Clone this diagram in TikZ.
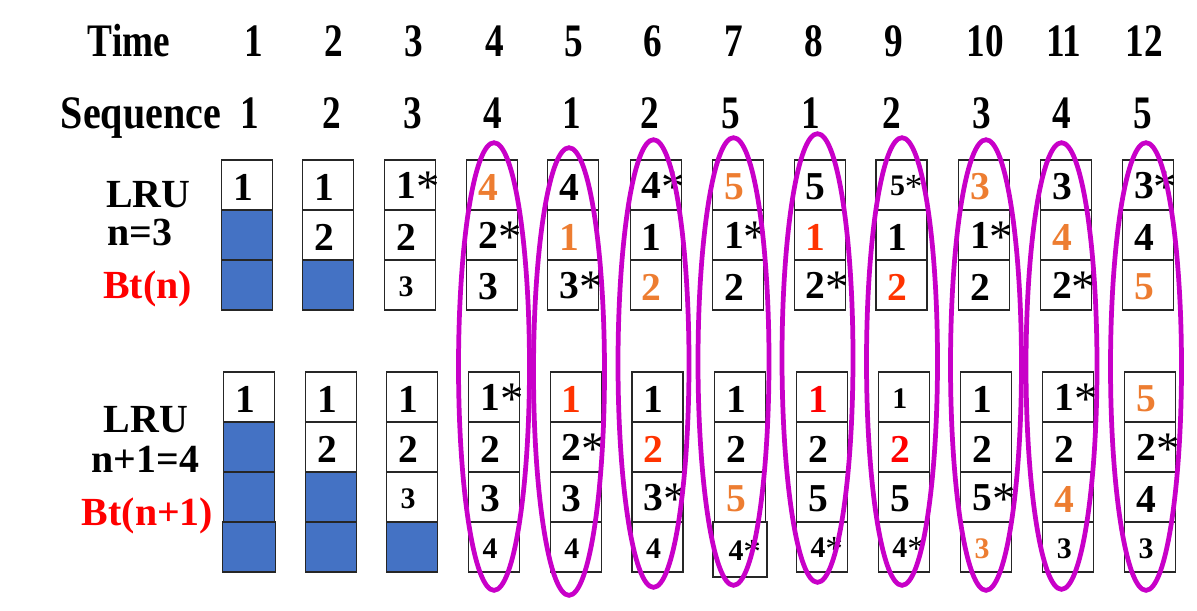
\documentclass[tikz,border=0pt]{standalone}
\usepackage{fontspec}
\setmainfont{Liberation Serif}
\definecolor{boxblue}{HTML}{4472C4}
\definecolor{orng}{HTML}{ED7D31}
\definecolor{redA}{HTML}{FF3300}
\definecolor{redB}{HTML}{FF0000}
\definecolor{mag}{HTML}{C800C8}
\newcommand\st{\rlap{\raisebox{-0.09em}{\scalebox{1.18}{\fontseries{m}\selectfont*}}}}
\newcommand\hh[1]{\scalebox{0.8}[1]{#1}}
\tikzset{
 cellbox/.style={draw=black!85, line width=0.7pt, minimum width=1.02cm, minimum height=1cm, inner sep=0pt, outer sep=0pt},
 num/.style={font=\bfseries\fontsize{22.5}{24}\selectfont, inner sep=0pt},
 sm/.style={font=\bfseries\fontsize{17}{18}\selectfont},
 hdr/.style={font=\bfseries\fontsize{26.5}{28}\selectfont, inner sep=0pt, anchor=base},
 lbl/.style={font=\bfseries\fontsize{22.7}{24}\selectfont, inner sep=0pt, anchor=base},
 ell/.style={draw=mag, line width=2.7pt},
}
\newcommand\cc[5]{%
  \node[cellbox] (#1) at (#2,#3) {};
  \node[num,#5] at ([xshift=-0.08cm,yshift=-0.04cm]#1.center) {#4};}
\newcommand\cb[3]{\node[cellbox,fill=boxblue] (#1) at (#2,#3) {};}
\begin{document}
\begin{tikzpicture}[x=0.02cm,y=-0.02cm]
\useasboundingbox (0,0) rectangle (1197,610);
% header
\node[hdr] (time) at (129,56) {\hh{Time}};
\node[hdr] (tm1) at (254,56) {\hh{1}};
\node[hdr] (tm2) at (333.5,56) {\hh{2}};
\node[hdr] (tm3) at (414,56) {\hh{3}};
\node[hdr] (tm4) at (495,56) {\hh{4}};
\node[hdr] (tm5) at (574,56) {\hh{5}};
\node[hdr] (tm6) at (652.7,56) {\hh{6}};
\node[hdr] (tm7) at (734,56) {\hh{7}};
\node[hdr] (tm8) at (813.5,56) {\hh{8}};
\node[hdr] (tm9) at (893.6,56) {\hh{9}};
\node[hdr] (tm10) at (985.5,56) {\hh{10}};
\node[hdr] (tm11) at (1064,56) {\hh{11}};
\node[hdr] (tm12) at (1144,56) {\hh{12}};
\node[hdr] (seq) at (141,128.5) {\scalebox{0.86}[1]{Sequence}};
\node[hdr] (sq1) at (250,128.5) {\hh{1}};
\node[hdr] (sq2) at (331.7,128.5) {\hh{2}};
\node[hdr] (sq3) at (412.5,128.5) {\hh{3}};
\node[hdr] (sq4) at (493,128.5) {\hh{4}};
\node[hdr] (sq5) at (572,128.5) {\hh{1}};
\node[hdr] (sq6) at (650,128.5) {\hh{2}};
\node[hdr] (sq7) at (730.5,128.5) {\hh{5}};
\node[hdr] (sq8) at (810.6,128.5) {\hh{1}};
\node[hdr] (sq9) at (891.6,128.5) {\hh{2}};
\node[hdr] (sq10) at (981.6,128.5) {\hh{3}};
\node[hdr] (sq11) at (1062,128.5) {\hh{4}};
\node[hdr] (sq12) at (1142.6,128.5) {\hh{5}};
% labels
\node[lbl] (lru1) at (148.5,207) {LRU};
\node[lbl,anchor=base west] (n3) at (107,245) {n=3};
\node[lbl,text=redB] (bt1) at (147.5,298) {Bt(n)};
\node[lbl] (lru2) at (146,432) {LRU};
\node[lbl] (n4) at (145.5,472) {n+1=4};
\node[lbl,text=redB] (bt2) at (147.5,525) {Bt(n+1)};
% top set (n=3)
\cc{a1r1}{247.2}{185}{1}{} \cb{a1r2}{247.2}{235} \cb{a1r3}{247.2}{285}
\cc{a2r1}{328.3}{185}{1}{} \cc{a2r2}{328.3}{235}{2}{} \cb{a2r3}{328.3}{285}
\cc{a3r1}{410.2}{185}{1\st}{} \cc{a3r2}{410.2}{235}{2}{} \cc{a3r3}{410.2}{285}{3}{sm}
\cc{a4r1}{492.2}{185}{4}{text=orng} \cc{a4r2}{492.2}{235}{2\st}{} \cc{a4r3}{492.2}{285}{3}{}
\cc{a5r1}{573.3}{185}{4}{} \cc{a5r2}{573.3}{235}{1}{text=orng} \cc{a5r3}{573.3}{285}{3\st}{}
\cc{a6r1}{655.7}{185}{4\st}{} \cc{a6r2}{655.7}{235}{1}{} \cc{a6r3}{655.7}{285}{2}{text=orng}
\cc{a7r1}{738}{185}{5}{text=orng} \cc{a7r2}{738}{235}{1\st}{} \cc{a7r3}{738}{285}{2}{}
\cc{a8r1}{819.7}{185}{5}{} \cc{a8r2}{819.7}{235}{1}{text=redA} \cc{a8r3}{819.7}{285}{2\st}{}
\cc{a9r1}{901.5}{185}{5\st}{sm} \cc{a9r2}{901.5}{235}{1}{} \cc{a9r3}{901.5}{285}{2}{text=redA}
\cc{a10r1}{984}{185}{3}{text=orng} \cc{a10r2}{984}{235}{1\st}{} \cc{a10r3}{984}{285}{2}{}
\cc{a11r1}{1066}{185}{3}{} \cc{a11r2}{1066}{235}{4}{text=orng} \cc{a11r3}{1066}{285}{2\st}{}
\cc{a12r1}{1147.9}{185}{3\st}{} \cc{a12r2}{1147.9}{235}{4}{} \cc{a12r3}{1147.9}{285}{5}{text=orng}
% bottom set (n+1=4)
\cc{b1r1}{249}{397}{1}{} \cb{b1r2}{249}{447} \cb{b1r3}{249}{497}
\node[cellbox,fill=boxblue,minimum width=1.06cm] (b1r4) at (249.2,547) {};
\cc{b2r1}{331}{397}{1}{} \cc{b2r2}{331}{447}{2}{} \cb{b2r3}{331}{497} \cb{b2r4}{331}{547}
\cc{b3r1}{412.2}{397}{1}{} \cc{b3r2}{412.2}{447}{2}{} \cc{b3r3}{412.2}{497}{3}{sm} \cb{b3r4}{412.2}{547}
\cc{b4r1}{494.2}{397}{1\st}{} \cc{b4r2}{494.2}{447}{2}{} \cc{b4r3}{494.2}{497}{3}{} \cc{b4r4}{494.2}{547}{4}{sm}
\cc{b5r1}{575.8}{397}{1}{text=redA} \cc{b5r2}{575.8}{447}{2\st}{} \cc{b5r3}{575.8}{497}{3}{} \cc{b5r4}{575.8}{547}{4}{sm}
\cc{b6r1}{657.6}{397}{1}{} \cc{b6r2}{657.6}{447}{2}{text=redA} \cc{b6r3}{657.6}{497}{3\st}{} \cc{b6r4}{657.6}{547}{4}{sm}
\cc{b7r1}{740}{397}{1}{} \cc{b7r2}{740}{447}{2}{} \cc{b7r3}{740}{497}{5}{text=orng}
\node[cellbox,minimum width=1.08cm,minimum height=1.1cm] (b7r4) at (740,549.5) {};
\node[num,sm] at ([xshift=-0.08cm,yshift=-0.04cm]b7r4.center) {4\st};
\cc{b8r1}{822}{397}{1}{text=redB} \cc{b8r2}{822}{447}{2}{} \cc{b8r3}{822}{497}{5}{} \cc{b8r4}{822}{547}{4\st}{sm}
\cc{b9r1}{903.9}{397}{1}{sm} \cc{b9r2}{903.9}{447}{2}{text=redB} \cc{b9r3}{903.9}{497}{5}{} \cc{b9r4}{903.9}{547}{4\st}{sm}
\cc{b10r1}{986.2}{397}{1}{} \cc{b10r2}{986.2}{447}{2}{} \cc{b10r3}{986.2}{497}{5\st}{} \cc{b10r4}{986.2}{547}{3}{sm,text=orng}
\cc{b11r1}{1068.3}{397}{1\st}{} \cc{b11r2}{1068.3}{447}{2}{} \cc{b11r3}{1068.3}{497}{4}{text=orng} \cc{b11r4}{1068.3}{547}{3}{sm}
\cc{b12r1}{1150.2}{397}{5}{text=orng} \cc{b12r2}{1150.2}{447}{2\st}{} \cc{b12r3}{1150.2}{497}{4}{} \cc{b12r4}{1150.2}{547}{3}{sm}
% ellipses
\foreach \ex/\et/\eb in {494/140/593, 569/145/598, 653.5/137/590, 733.5/135/588, 817.5/131/585, 902/135/588, 986/137/593, 1061.5/140/592, 1146/140/593}
  \draw[ell] (\ex,{(\et+\eb)/2}) ellipse [x radius=0.71cm, y radius={(\eb-\et)*0.01cm-0.05cm}];
\end{tikzpicture}
\end{document}
